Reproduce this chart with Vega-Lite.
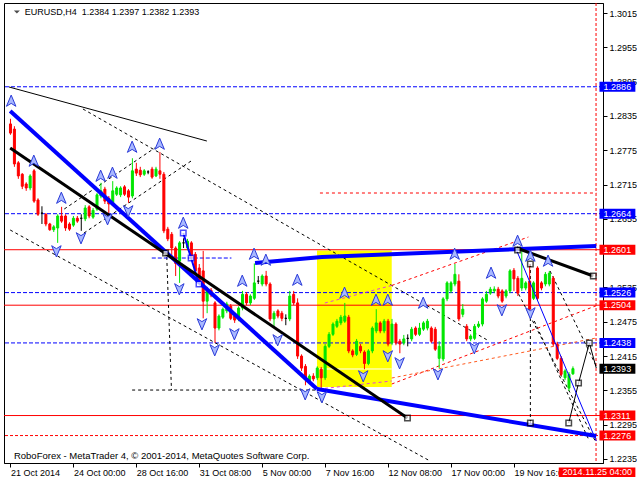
{
"$schema":"https://vega.github.io/schema/vega-lite/v6.json",
"width":599,"height":460,
"padding":{"left":2,"top":2,"right":0,"bottom":0},
"background":"white",
"config":{"view":{"stroke":"#000000","strokeWidth":1},"font":"Liberation Sans",
 "axis":{"labelOverlap":false,"labelBound":false,"labelFlush":false,"grid":false,"tickColor":"#000000","domainColor":"#000000","labelColor":"#000000","labelFont":"Liberation Sans","labelFontSize":9,"tickSize":4,"tickCount":30},
 "axisX":{"labelAlign":"left","labelBaseline":"top","labelPadding":1},
 "axisY":{"labelBaseline":"middle","labelPadding":2}},
"datasets":{
"candles":[
{"i":0,"o":1.2821,"h":1.2830,"l":1.2802,"c":1.2805},
{"i":1,"o":1.2812,"h":1.2817,"l":1.2746,"c":1.2751},
{"i":2,"o":1.2753,"h":1.2756,"l":1.2725,"c":1.2730},
{"i":3,"o":1.2733,"h":1.2735,"l":1.2707,"c":1.2712},
{"i":4,"o":1.2716,"h":1.2719,"l":1.2704,"c":1.2709},
{"i":5,"o":1.2709,"h":1.2733,"l":1.2705,"c":1.2730},
{"i":6,"o":1.2739,"h":1.2742,"l":1.2683,"c":1.2686},
{"i":7,"o":1.2688,"h":1.2691,"l":1.2660,"c":1.2663},
{"i":8,"o":1.2665,"h":1.2677,"l":1.2646,"c":1.2665},
{"i":9,"o":1.2663,"h":1.2665,"l":1.2642,"c":1.2646},
{"i":10,"o":1.2646,"h":1.2648,"l":1.2634,"c":1.2636},
{"i":11,"o":1.2636,"h":1.2644,"l":1.2632,"c":1.2641},
{"i":12,"o":1.2639,"h":1.2663,"l":1.2613,"c":1.2660},
{"i":13,"o":1.2660,"h":1.2676,"l":1.2648,"c":1.2651},
{"i":14,"o":1.2660,"h":1.2663,"l":1.2634,"c":1.2639},
{"i":15,"o":1.2646,"h":1.2649,"l":1.2634,"c":1.2637},
{"i":16,"o":1.2644,"h":1.2660,"l":1.2641,"c":1.2656},
{"i":17,"o":1.2656,"h":1.2660,"l":1.2648,"c":1.2651},
{"i":18,"o":1.2656,"h":1.2663,"l":1.2634,"c":1.2656},
{"i":19,"o":1.2655,"h":1.2679,"l":1.2651,"c":1.2674},
{"i":20,"o":1.2676,"h":1.2679,"l":1.2656,"c":1.2660},
{"i":21,"o":1.2658,"h":1.2674,"l":1.2655,"c":1.2670},
{"i":22,"o":1.2672,"h":1.2700,"l":1.2669,"c":1.2697},
{"i":23,"o":1.2695,"h":1.2718,"l":1.2691,"c":1.2704},
{"i":24,"o":1.2707,"h":1.2711,"l":1.2681,"c":1.2686},
{"i":25,"o":1.2691,"h":1.2695,"l":1.2665,"c":1.2681},
{"i":26,"o":1.2683,"h":1.2721,"l":1.2679,"c":1.2704},
{"i":27,"o":1.2698,"h":1.2712,"l":1.2695,"c":1.2709},
{"i":28,"o":1.2697,"h":1.2712,"l":1.2693,"c":1.2709},
{"i":29,"o":1.2711,"h":1.2714,"l":1.2695,"c":1.2698},
{"i":30,"o":1.2704,"h":1.2707,"l":1.2683,"c":1.2693},
{"i":31,"o":1.2695,"h":1.2761,"l":1.2691,"c":1.2739},
{"i":32,"o":1.2742,"h":1.2753,"l":1.2730,"c":1.2735},
{"i":33,"o":1.2740,"h":1.2746,"l":1.2728,"c":1.2732},
{"i":34,"o":1.2733,"h":1.2742,"l":1.2730,"c":1.2739},
{"i":35,"o":1.2737,"h":1.2740,"l":1.2733,"c":1.2737},
{"i":36,"o":1.2742,"h":1.2746,"l":1.2725,"c":1.2728},
{"i":37,"o":1.2730,"h":1.2746,"l":1.2728,"c":1.2742},
{"i":38,"o":1.2739,"h":1.2772,"l":1.2725,"c":1.2733},
{"i":39,"o":1.2733,"h":1.2737,"l":1.2630,"c":1.2634},
{"i":40,"o":1.2637,"h":1.2641,"l":1.2616,"c":1.2620},
{"i":41,"o":1.2628,"h":1.2632,"l":1.2590,"c":1.2604},
{"i":42,"o":1.2604,"h":1.2607,"l":1.2555,"c":1.2577},
{"i":43,"o":1.2581,"h":1.2616,"l":1.2543,"c":1.2613},
{"i":44,"o":1.2613,"h":1.2621,"l":1.2604,"c":1.2613},
{"i":45,"o":1.2604,"h":1.2620,"l":1.2600,"c":1.2616},
{"i":46,"o":1.2613,"h":1.2616,"l":1.2583,"c":1.2586},
{"i":47,"o":1.2593,"h":1.2597,"l":1.2558,"c":1.2564},
{"i":48,"o":1.2569,"h":1.2576,"l":1.2543,"c":1.2546},
{"i":49,"o":1.2564,"h":1.2599,"l":1.2481,"c":1.2511},
{"i":50,"o":1.2511,"h":1.2536,"l":1.2490,"c":1.2532},
{"i":51,"o":1.2530,"h":1.2534,"l":1.2518,"c":1.2522},
{"i":52,"o":1.2508,"h":1.2511,"l":1.2438,"c":1.2464},
{"i":53,"o":1.2464,"h":1.2488,"l":1.2460,"c":1.2485},
{"i":54,"o":1.2483,"h":1.2500,"l":1.2480,"c":1.2497},
{"i":55,"o":1.2494,"h":1.2510,"l":1.2490,"c":1.2506},
{"i":56,"o":1.2502,"h":1.2506,"l":1.2478,"c":1.2481},
{"i":57,"o":1.2485,"h":1.2488,"l":1.2473,"c":1.2478},
{"i":58,"o":1.2480,"h":1.2502,"l":1.2476,"c":1.2499},
{"i":59,"o":1.2499,"h":1.2529,"l":1.2495,"c":1.2523},
{"i":60,"o":1.2523,"h":1.2527,"l":1.2504,"c":1.2508},
{"i":61,"o":1.2508,"h":1.2523,"l":1.2504,"c":1.2520},
{"i":62,"o":1.2516,"h":1.2577,"l":1.2513,"c":1.2543},
{"i":63,"o":1.2546,"h":1.2555,"l":1.2541,"c":1.2546},
{"i":64,"o":1.2541,"h":1.2558,"l":1.2537,"c":1.2555},
{"i":65,"o":1.2555,"h":1.2564,"l":1.2537,"c":1.2541},
{"i":66,"o":1.2541,"h":1.2544,"l":1.2476,"c":1.2480},
{"i":67,"o":1.2480,"h":1.2494,"l":1.2464,"c":1.2490},
{"i":68,"o":1.2494,"h":1.2497,"l":1.2481,"c":1.2485},
{"i":69,"o":1.2490,"h":1.2494,"l":1.2476,"c":1.2481},
{"i":70,"o":1.2481,"h":1.2488,"l":1.2469,"c":1.2481},
{"i":71,"o":1.2480,"h":1.2529,"l":1.2476,"c":1.2520},
{"i":72,"o":1.2523,"h":1.2529,"l":1.2504,"c":1.2508},
{"i":73,"o":1.2508,"h":1.2516,"l":1.2410,"c":1.2415},
{"i":74,"o":1.2415,"h":1.2418,"l":1.2389,"c":1.2394},
{"i":75,"o":1.2397,"h":1.2401,"l":1.2364,"c":1.2377},
{"i":76,"o":1.2371,"h":1.2383,"l":1.2368,"c":1.2380},
{"i":77,"o":1.2380,"h":1.2385,"l":1.2371,"c":1.2375},
{"i":78,"o":1.2377,"h":1.2397,"l":1.2373,"c":1.2394},
{"i":79,"o":1.2392,"h":1.2396,"l":1.2359,"c":1.2377},
{"i":80,"o":1.2377,"h":1.2436,"l":1.2373,"c":1.2432},
{"i":81,"o":1.2432,"h":1.2457,"l":1.2429,"c":1.2453},
{"i":82,"o":1.2453,"h":1.2474,"l":1.2450,"c":1.2471},
{"i":83,"o":1.2467,"h":1.2480,"l":1.2464,"c":1.2476},
{"i":84,"o":1.2473,"h":1.2487,"l":1.2469,"c":1.2483},
{"i":85,"o":1.2476,"h":1.2508,"l":1.2473,"c":1.2485},
{"i":86,"o":1.2483,"h":1.2487,"l":1.2420,"c":1.2424},
{"i":87,"o":1.2424,"h":1.2427,"l":1.2413,"c":1.2417},
{"i":88,"o":1.2418,"h":1.2445,"l":1.2415,"c":1.2441},
{"i":89,"o":1.2432,"h":1.2436,"l":1.2420,"c":1.2424},
{"i":90,"o":1.2422,"h":1.2425,"l":1.2392,"c":1.2402},
{"i":91,"o":1.2402,"h":1.2427,"l":1.2399,"c":1.2424},
{"i":92,"o":1.2424,"h":1.2467,"l":1.2420,"c":1.2464},
{"i":93,"o":1.2459,"h":1.2497,"l":1.2455,"c":1.2473},
{"i":94,"o":1.2473,"h":1.2476,"l":1.2455,"c":1.2459},
{"i":95,"o":1.2459,"h":1.2480,"l":1.2455,"c":1.2476},
{"i":96,"o":1.2476,"h":1.2480,"l":1.2432,"c":1.2436},
{"i":97,"o":1.2438,"h":1.2480,"l":1.2434,"c":1.2471},
{"i":98,"o":1.2471,"h":1.2474,"l":1.2434,"c":1.2438},
{"i":99,"o":1.2441,"h":1.2445,"l":1.2420,"c":1.2436},
{"i":100,"o":1.2438,"h":1.2452,"l":1.2434,"c":1.2445},
{"i":101,"o":1.2446,"h":1.2453,"l":1.2432,"c":1.2446},
{"i":102,"o":1.2445,"h":1.2466,"l":1.2441,"c":1.2462},
{"i":103,"o":1.2464,"h":1.2467,"l":1.2450,"c":1.2453},
{"i":104,"o":1.2453,"h":1.2473,"l":1.2450,"c":1.2464},
{"i":105,"o":1.2462,"h":1.2476,"l":1.2459,"c":1.2473},
{"i":106,"o":1.2464,"h":1.2480,"l":1.2460,"c":1.2476},
{"i":107,"o":1.2464,"h":1.2467,"l":1.2438,"c":1.2441},
{"i":108,"o":1.2462,"h":1.2466,"l":1.2424,"c":1.2427},
{"i":109,"o":1.2411,"h":1.2441,"l":1.2394,"c":1.2432},
{"i":110,"o":1.2410,"h":1.2518,"l":1.2406,"c":1.2515},
{"i":111,"o":1.2515,"h":1.2546,"l":1.2511,"c":1.2543},
{"i":112,"o":1.2529,"h":1.2546,"l":1.2525,"c":1.2543},
{"i":113,"o":1.2541,"h":1.2576,"l":1.2537,"c":1.2558},
{"i":114,"o":1.2546,"h":1.2558,"l":1.2476,"c":1.2480},
{"i":115,"o":1.2488,"h":1.2506,"l":1.2483,"c":1.2497},
{"i":116,"o":1.2467,"h":1.2471,"l":1.2441,"c":1.2445},
{"i":117,"o":1.2445,"h":1.2453,"l":1.2441,"c":1.2450},
{"i":118,"o":1.2446,"h":1.2471,"l":1.2443,"c":1.2467},
{"i":119,"o":1.2467,"h":1.2476,"l":1.2464,"c":1.2471},
{"i":120,"o":1.2471,"h":1.2518,"l":1.2467,"c":1.2515},
{"i":121,"o":1.2511,"h":1.2529,"l":1.2508,"c":1.2523},
{"i":122,"o":1.2525,"h":1.2536,"l":1.2522,"c":1.2532},
{"i":123,"o":1.2529,"h":1.2537,"l":1.2525,"c":1.2532},
{"i":124,"o":1.2532,"h":1.2536,"l":1.2516,"c":1.2520},
{"i":125,"o":1.2529,"h":1.2532,"l":1.2508,"c":1.2511},
{"i":126,"o":1.2520,"h":1.2532,"l":1.2516,"c":1.2529},
{"i":127,"o":1.2529,"h":1.2567,"l":1.2525,"c":1.2564},
{"i":128,"o":1.2565,"h":1.2569,"l":1.2529,"c":1.2550},
{"i":129,"o":1.2551,"h":1.2555,"l":1.2520,"c":1.2525},
{"i":130,"o":1.2534,"h":1.2602,"l":1.2529,"c":1.2551},
{"i":131,"o":1.2534,"h":1.2546,"l":1.2530,"c":1.2543},
{"i":132,"o":1.2546,"h":1.2576,"l":1.2494,"c":1.2497},
{"i":133,"o":1.2516,"h":1.2546,"l":1.2513,"c":1.2543},
{"i":134,"o":1.2569,"h":1.2572,"l":1.2513,"c":1.2516},
{"i":135,"o":1.2543,"h":1.2546,"l":1.2530,"c":1.2534},
{"i":136,"o":1.2541,"h":1.2562,"l":1.2537,"c":1.2558},
{"i":137,"o":1.2541,"h":1.2564,"l":1.2537,"c":1.2560},
{"i":138,"o":1.2551,"h":1.2555,"l":1.2432,"c":1.2436},
{"i":139,"o":1.2436,"h":1.2440,"l":1.2408,"c":1.2411},
{"i":140,"o":1.2411,"h":1.2415,"l":1.2380,"c":1.2383},
{"i":141,"o":1.2377,"h":1.2392,"l":1.2373,"c":1.2389},
{"i":142,"o":1.2359,"h":1.2387,"l":1.2354,"c":1.2383},
{"i":143,"o":1.2384,"h":1.2397,"l":1.2382,"c":1.2393}
],
"levels":[
{"p":1.2886,"kind":"blueDash"},{"p":1.2664,"kind":"blueDash"},{"p":1.2601,"kind":"redSolid"},
{"p":1.2526,"kind":"blueDash"},{"p":1.2504,"kind":"redSolid"},{"p":1.2438,"kind":"blueDash"},
{"p":1.2393,"kind":"price"},{"p":1.2311,"kind":"redSolid"},{"p":1.2276,"kind":"redDash"}
],
"zone":[{"i":77.93,"i2":96.93,"p":1.25995,"p2":1.23609}],
"zoneLine":[{"id":"w","n":0,"i":77.93,"p":1.23924},{"id":"w","n":1,"i":96.93,"p":1.23924}],
"blueThick":[
{"id":"A","n":0,"i":-0.075,"p":1.28436},{"id":"A","n":1,"i":77.93,"p":1.23574},
{"id":"B","n":0,"i":77.93,"p":1.23574},{"id":"B","n":1,"i":148.93,"p":1.22752},
{"id":"C","n":0,"i":62.18,"p":1.25778},{"id":"C","n":1,"i":79.18,"p":1.25883},{"id":"C","n":2,"i":148.93,"p":1.26075}
],
"blackThick":[
{"id":"D","n":0,"i":-0.075,"p":1.27789},{"id":"D","n":1,"i":100.93,"p":1.23067},
{"id":"E","n":0,"i":128.68,"p":1.26040},{"id":"E","n":1,"i":148.18,"p":1.25550}
],
"thinBlack":[
{"id":"T","n":0,"i":-0.375,"p":1.28856},{"id":"T","n":1,"i":49.93,"p":1.27911},
{"id":"Z","n":0,"i":141.93,"p":1.22979},{"id":"Z","n":1,"i":144.43,"p":1.23679},{"id":"Z","n":2,"i":147.18,"p":1.24378},{"id":"Z","n":3,"i":148.93,"p":1.23941}
],
"thinBlue":[
{"id":"F","n":0,"i":128.43,"p":1.26040},{"id":"F","n":1,"i":148.93,"p":1.22664}
],
"blueMid":[
{"id":"S","n":0,"i":43.93,"p":1.26302},{"id":"S","n":1,"i":45.93,"p":1.25865},{"id":"S","n":2,"i":47.93,"p":1.25410}
],
"dashBlack":[
{"id":"d1","n":0,"i":18.43,"p":1.28471},{"id":"d1","n":1,"i":121.68,"p":1.24413},
{"id":"d2","n":0,"i":13.68,"p":1.26722},{"id":"d2","n":1,"i":36.68,"p":1.27789},
{"id":"d3","n":0,"i":18.68,"p":1.26302},{"id":"d3","n":1,"i":45.93,"p":1.27562},
{"id":"d4","n":0,"i":-0.075,"p":1.26355},{"id":"d4","n":1,"i":106.68,"p":1.22315},
{"id":"d5","n":0,"i":39.68,"p":1.25988},{"id":"d5","n":1,"i":40.93,"p":1.23556},
{"id":"d6","n":0,"i":30.93,"p":1.23556},{"id":"d6","n":1,"i":77.93,"p":1.23556},
{"id":"d7","n":0,"i":132.18,"p":1.25760},{"id":"d7","n":1,"i":132.18,"p":1.22979},
{"id":"d8","n":0,"i":137.18,"p":1.25638},{"id":"d8","n":1,"i":149.18,"p":1.23941},
{"id":"d9","n":0,"i":129.18,"p":1.25235},{"id":"d9","n":1,"i":148.68,"p":1.22664},
{"id":"d10","n":0,"i":133.18,"p":1.24763},{"id":"d10","n":1,"i":147.18,"p":1.22664}
],
"dashBlue":[{"id":"b1","n":0,"i":35.93,"p":1.25865},{"id":"b1","n":1,"i":56.18,"p":1.25865}],
"dashRed":[
{"id":"r1","n":0,"i":96.93,"p":1.25385},{"id":"r1","n":1,"i":131.68,"p":1.26232},
{"id":"r2","n":0,"i":96.93,"p":1.23661},{"id":"r2","n":1,"i":148.93,"p":1.25031},
{"id":"r5","n":0,"i":78.68,"p":1.27002},{"id":"r5","n":1,"i":148.93,"p":1.27002}
],
"dashOrange":[{"id":"r3","n":0,"i":96.93,"p":1.23766},{"id":"r3","n":1,"i":148.93,"p":1.24466}],
"dashMagenta":[
{"id":"m1","n":0,"i":79.93,"p":1.25078},{"id":"m1","n":1,"i":96.93,"p":1.25385},
{"id":"m2","n":0,"i":78.43,"p":1.23574},{"id":"m2","n":1,"i":96.93,"p":1.23714}
],
"sqBlack":[
{"i":39.43,"p":1.25953},{"i":100.93,"p":1.23067},{"i":148.18,"p":1.25550},{"i":128.93,"p":1.26005},
{"i":141.93,"p":1.22979},{"i":144.43,"p":1.23679},{"i":147.18,"p":1.24378},{"i":132.18,"p":1.25760},{"i":132.18,"p":1.22979}
],
"sqBlue":[{"i":43.93,"p":1.26302},{"i":45.93,"p":1.25865},{"i":47.93,"p":1.25410}],
"up":[
{"i":0.18,"p":1.28611},{"i":5.93,"p":1.27562},{"i":12.93,"p":1.26914},{"i":22.93,"p":1.27299},{"i":25.93,"p":1.27352},
{"i":30.93,"p":1.27806},{"i":37.93,"p":1.27859},{"i":43.93,"p":1.26477},{"i":61.93,"p":1.25935},{"i":64.93,"p":1.25830},
{"i":58.93,"p":1.25463},{"i":72.93,"p":1.25480},{"i":84.93,"p":1.25253},{"i":92.93,"p":1.25130},{"i":95.93,"p":1.25130},
{"i":104.93,"p":1.25078},{"i":112.93,"p":1.25935},{"i":122.18,"p":1.25603},{"i":128.93,"p":1.26162},{"i":132.18,"p":1.25900},
{"i":136.68,"p":1.25813}
],
"down":[
{"i":11.68,"p":1.25987},{"i":17.93,"p":1.26215},{"i":24.68,"p":1.26547},{"i":29.93,"p":1.26687},{"i":42.93,"p":1.25323},
{"i":48.68,"p":1.24711},{"i":51.93,"p":1.24256},{"i":56.93,"p":1.24536},{"i":67.93,"p":1.24431},{"i":74.93,"p":1.23486},
{"i":79.18,"p":1.23434},{"i":89.68,"p":1.23801},{"i":95.93,"p":1.24151},{"i":98.93,"p":1.24029},{"i":108.68,"p":1.23836},
{"i":117.93,"p":1.24291},{"i":124.93,"p":1.24956},{"i":132.18,"p":1.24903}
]
},
"layer":[
{"data":{"name":"zone"},"mark":{"type":"rect","color":"#ffff00"},
 "encoding":{
  "x":{"field":"i","type":"quantitative","scale":{"domain":[-0.375,149.375],"nice":false,"zero":false},
   "axis":{"orient":"bottom","values":[0,16,32,48,64,80,96,112,128],"tickCount":30,
    "labelExpr":"datum.value==0?'21 Oct 2014':datum.value==16?'24 Oct 00:00':datum.value==32?'28 Oct 16:00':datum.value==48?'31 Oct 08:00':datum.value==64?'5 Nov 00:00':datum.value==80?'7 Nov 16:00':datum.value==96?'12 Nov 08:00':datum.value==112?'17 Nov 00:00':'19 Nov 16:00'",
    "labelAlign":"left","labelBaseline":"top","labelPadding":1,"tickSize":4,"labelFontSize":9,"grid":false,"title":null,"labelFlush":false,"labelOverlap":false,"labelBound":false}},
  "x2":{"field":"i2"},
  "y":{"field":"p","type":"quantitative","scale":{"domain":[1.2228,1.30325],"nice":false,"zero":false},
   "axis":{"orient":"right","values":[1.3015,1.2955,1.2895,1.2835,1.2775,1.2715,1.2655,1.2535,1.2475,1.2415,1.2355,1.2295,1.2235],"tickCount":30,
    "format":".4f","tickSize":4,"labelPadding":2,"labelFontSize":9,"grid":false,"title":null,"labelFlush":false,"labelOverlap":false,"labelBound":false,"labelBaseline":"middle"}},
  "y2":{"field":"p2"}}},
{"data":{"name":"zoneLine"},"mark":{"type":"line","color":"#ffffff","strokeWidth":1},
 "encoding":{"x":{"field":"i","type":"quantitative"},"y":{"field":"p","type":"quantitative"},"detail":{"field":"id"},"order":{"field":"n"}}},
{"data":{"name":"levels"},"transform":[{"filter":"datum.kind != 'price'"}],"mark":{"type":"rule","strokeWidth":1},
 "encoding":{"y":{"field":"p","type":"quantitative"},
  "color":{"field":"kind","type":"nominal","scale":{"domain":["blueDash","redSolid","redDash","price"],"range":["#0000ff","#ff0000","#ff0000","#000000"]},"legend":null},
  "strokeDash":{"field":"kind","type":"nominal","scale":{"domain":["blueDash","redSolid","redDash","price"],"range":[[4,2],[1,0],[3,2],[1,0]]},"legend":null}}},
{"data":{"values":[{}]},"mark":{"type":"rule","color":"#ff0000","strokeDash":[3,2],"strokeWidth":1},
 "encoding":{"x":{"datum":148.875,"type":"quantitative"}}},
{"data":{"name":"dashBlack"},"mark":{"type":"line","color":"#000000","strokeWidth":1,"strokeDash":[3,3]},
 "encoding":{"x":{"field":"i","type":"quantitative"},"y":{"field":"p","type":"quantitative"},"detail":{"field":"id"},"order":{"field":"n"}}},
{"data":{"name":"dashBlue"},"mark":{"type":"line","color":"#0000ff","strokeWidth":1,"strokeDash":[4,2]},
 "encoding":{"x":{"field":"i","type":"quantitative"},"y":{"field":"p","type":"quantitative"},"detail":{"field":"id"},"order":{"field":"n"}}},
{"data":{"name":"dashRed"},"mark":{"type":"line","color":"#ff0000","strokeWidth":1,"strokeDash":[3,3]},
 "encoding":{"x":{"field":"i","type":"quantitative"},"y":{"field":"p","type":"quantitative"},"detail":{"field":"id"},"order":{"field":"n"}}},
{"data":{"name":"dashOrange"},"mark":{"type":"line","color":"#ff5a1e","strokeWidth":1,"strokeDash":[3,3]},
 "encoding":{"x":{"field":"i","type":"quantitative"},"y":{"field":"p","type":"quantitative"},"detail":{"field":"id"},"order":{"field":"n"}}},
{"data":{"name":"dashMagenta"},"mark":{"type":"line","color":"#e040e0","strokeWidth":1,"strokeDash":[3,3]},
 "encoding":{"x":{"field":"i","type":"quantitative"},"y":{"field":"p","type":"quantitative"},"detail":{"field":"id"},"order":{"field":"n"}}},
{"data":{"name":"candles"},"mark":{"type":"rule","strokeWidth":1},
 "encoding":{"x":{"field":"i","type":"quantitative"},"y":{"field":"l","type":"quantitative"},"y2":{"field":"h"},
  "color":{"condition":[{"test":"abs(datum.c - datum.o) < 0.00005","value":"#000000"},{"test":"datum.c > datum.o","value":"#00e600"}],"value":"#ff0000"}}},
{"data":{"name":"candles"},"mark":{"type":"bar","width":2,"strokeWidth":1},
 "encoding":{"x":{"field":"i","type":"quantitative"},"y":{"field":"o","type":"quantitative"},"y2":{"field":"c"},
  "fill":{"condition":[{"test":"abs(datum.c - datum.o) < 0.00005","value":"#000000"},{"test":"datum.c > datum.o","value":"#00e600"}],"value":"#ff0000"},
  "stroke":{"condition":[{"test":"abs(datum.c - datum.o) < 0.00005","value":"#000000"},{"test":"datum.c > datum.o","value":"#00e600"}],"value":"#ff0000"}}},
{"data":{"name":"thinBlack"},"mark":{"type":"line","color":"#000000","strokeWidth":1},
 "encoding":{"x":{"field":"i","type":"quantitative"},"y":{"field":"p","type":"quantitative"},"detail":{"field":"id"},"order":{"field":"n"}}},
{"data":{"name":"thinBlue"},"mark":{"type":"line","color":"#0000ff","strokeWidth":1},
 "encoding":{"x":{"field":"i","type":"quantitative"},"y":{"field":"p","type":"quantitative"},"detail":{"field":"id"},"order":{"field":"n"}}},
{"data":{"name":"blueMid"},"mark":{"type":"line","color":"#0000ff","strokeWidth":2},
 "encoding":{"x":{"field":"i","type":"quantitative"},"y":{"field":"p","type":"quantitative"},"detail":{"field":"id"},"order":{"field":"n"}}},
{"data":{"name":"blueThick"},"mark":{"type":"line","color":"#0000ff","strokeWidth":4},
 "encoding":{"x":{"field":"i","type":"quantitative"},"y":{"field":"p","type":"quantitative"},"detail":{"field":"id"},"order":{"field":"n"}}},
{"data":{"name":"blackThick"},"mark":{"type":"line","color":"#000000","strokeWidth":3},
 "encoding":{"x":{"field":"i","type":"quantitative"},"y":{"field":"p","type":"quantitative"},"detail":{"field":"id"},"order":{"field":"n"}}},
{"data":{"name":"sqBlack"},"mark":{"type":"point","shape":"square","filled":true,"fill":"#ffffff","stroke":"#000000","strokeWidth":1.5,"size":30},
 "encoding":{"x":{"field":"i","type":"quantitative"},"y":{"field":"p","type":"quantitative"}}},
{"data":{"name":"sqBlue"},"mark":{"type":"point","shape":"square","filled":true,"fill":"#ffffff","stroke":"#0000ff","strokeWidth":1.5,"size":30},
 "encoding":{"x":{"field":"i","type":"quantitative"},"y":{"field":"p","type":"quantitative"}}},
{"data":{"name":"up"},"mark":{"type":"point","shape":"M0,-1L0.8,0.9L0,0.4L-0.8,0.9Z","filled":true,"fill":"#a8b8ff","stroke":"#2a3ad8","strokeWidth":1,"size":140,"opacity":1},
 "encoding":{"x":{"field":"i","type":"quantitative"},"y":{"field":"p","type":"quantitative"}}},
{"data":{"name":"down"},"mark":{"type":"point","shape":"M0,1L0.8,-0.9L0,-0.4L-0.8,-0.9Z","filled":true,"fill":"#a8b8ff","stroke":"#2a3ad8","strokeWidth":1,"size":140,"opacity":1},
 "encoding":{"x":{"field":"i","type":"quantitative"},"y":{"field":"p","type":"quantitative"}}},
{"data":{"name":"levels"},"mark":{"type":"rect","yOffset":-5,"y2Offset":5},
 "encoding":{"x":{"datum":149.75,"type":"quantitative"},"x2":{"datum":158.875},
  "y":{"field":"p","type":"quantitative"},"y2":{"field":"p"},
  "color":{"field":"kind","type":"nominal","scale":{"domain":["blueDash","redSolid","redDash","price"],"range":["#0000ff","#ff0000","#ff0000","#000000"]},"legend":null}}},
{"data":{"name":"levels"},"mark":{"type":"text","align":"left","baseline":"middle","color":"#ffffff","font":"Liberation Sans","fontSize":9},
 "encoding":{"x":{"datum":150.8,"type":"quantitative"},"y":{"field":"p","type":"quantitative"},"text":{"field":"p","type":"quantitative","format":".4f"}}},
{"data":{"values":[{}]},"mark":{"type":"rect","color":"#ff0000"},
 "encoding":{"x":{"datum":139.4,"type":"quantitative"},"x2":{"datum":158.875},"y":{"datum":1.22200,"type":"quantitative"},"y2":{"datum":1.22035}}},
{"data":{"values":[{}]},"mark":{"type":"text","align":"center","baseline":"middle","color":"#ffffff","font":"Liberation Sans","fontSize":9},
 "encoding":{"x":{"datum":149.2,"type":"quantitative"},"y":{"datum":1.22117,"type":"quantitative"},"text":{"value":"2014.11.25 04:00"}}},
{"data":{"values":[{}]},"mark":{"type":"text","align":"left","baseline":"middle","color":"#000000","font":"Liberation Sans","fontSize":9.5},
 "encoding":{"x":{"datum":0.875,"type":"quantitative"},"y":{"datum":1.22402,"type":"quantitative"},"text":{"value":"RoboForex - MetaTrader 4, © 2001-2014, MetaQuotes Software Corp."}}},
{"data":{"values":[{}]},"mark":{"type":"text","align":"left","baseline":"middle","color":"#000000","font":"Liberation Sans","fontSize":9},
 "encoding":{"x":{"datum":3.625,"type":"quantitative"},"y":{"datum":1.30168,"type":"quantitative"},"text":{"value":"EURUSD,H4\u00a0\u00a01.2384 1.2397 1.2382 1.2393"}}},
{"data":{"values":[{}]},"mark":{"type":"point","shape":"M-1,-0.5L1,-0.5L0,0.5Z","filled":true,"color":"#000000","size":36},
 "encoding":{"x":{"datum":1.625,"type":"quantitative"},"y":{"datum":1.30168,"type":"quantitative"}}}
]
}
